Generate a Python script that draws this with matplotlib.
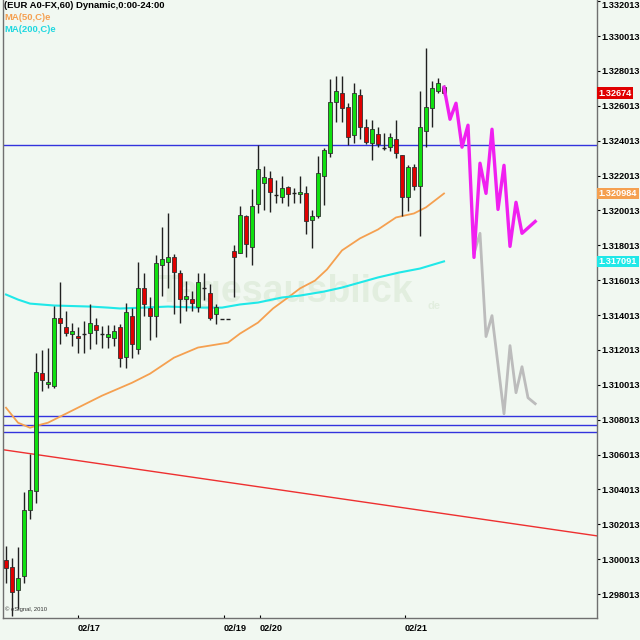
import matplotlib
matplotlib.use("Agg")
import matplotlib.pyplot as plt
import matplotlib.transforms as mtransforms

# --- hourly EUR/USD candles (bar index 0..73) ---
opens = [1.29997, 1.29956, 1.29824, 1.29905, 1.30284, 1.30393, 1.31071, 1.31008, 1.30996, 1.31387,
         1.31335, 1.31295, 1.31284, 1.31295, 1.31301, 1.31347, 1.31295, 1.31278, 1.31272, 1.31330,
         1.31163, 1.31398, 1.31209, 1.31559, 1.31439, 1.31393, 1.31691, 1.31703, 1.31732, 1.31640,
         1.31496, 1.31496, 1.31450, 1.31559, 1.31525, 1.31410, 1.31381, 1.31381, 1.31766, 1.31760,
         1.31967, 1.31789, 1.32036, 1.32157, 1.32185, 1.32088, 1.32076, 1.32134, 1.32099, 1.32094,
         1.32099, 1.31944, 1.31967, 1.32197, 1.32329, 1.32622, 1.32674, 1.32593, 1.32433, 1.32662,
         1.32478, 1.32387, 1.32438, 1.32358, 1.32364, 1.32410, 1.32318, 1.32076, 1.32249, 1.32140,
         1.32456, 1.32588, 1.32685, 1.32708]
highs = [1.30077, 1.30008, 1.30071, 1.30387, 1.30606, 1.31186, 1.31203, 1.31215, 1.31456, 1.31588,
         1.31427, 1.31358, 1.31335, 1.31370, 1.31467, 1.31387, 1.31341, 1.31347, 1.31347, 1.31352,
         1.31473, 1.31444, 1.31703, 1.31645, 1.31502, 1.31743, 1.31904, 1.31984, 1.31749, 1.31657,
         1.31594, 1.31542, 1.31640, 1.31645, 1.31582, 1.31467, 1.31381, 1.31381, 1.31801, 1.32025,
         1.31973, 1.32122, 1.32375, 1.32254, 1.32226, 1.32174, 1.32197, 1.32140, 1.32128, 1.32197,
         1.32140, 1.32002, 1.32312, 1.32358, 1.32754, 1.32771, 1.32771, 1.32616, 1.32731, 1.32697,
         1.32524, 1.32519, 1.32478, 1.32444, 1.32444, 1.32519, 1.32318, 1.32260, 1.32266, 1.32685,
         1.32932, 1.32743, 1.32760, 1.32720]
lows = [1.29865, 1.29675, 1.29715, 1.29865, 1.30232, 1.30324, 1.30968, 1.30985, 1.30985, 1.31238,
        1.31284, 1.31226, 1.31186, 1.31186, 1.31209, 1.31238, 1.31215, 1.31215, 1.31226, 1.31105,
        1.31100, 1.31157, 1.31180, 1.31398, 1.31261, 1.31278, 1.31513, 1.31554, 1.31410, 1.31358,
        1.31427, 1.31427, 1.31416, 1.31490, 1.31375, 1.31352, 1.31381, 1.31381, 1.31502, 1.31755,
        1.31737, 1.31686, 1.31984, 1.32002, 1.31990, 1.32042, 1.32042, 1.32025, 1.32042, 1.32042,
        1.31864, 1.31783, 1.31956, 1.32030, 1.32306, 1.32507, 1.32507, 1.32375, 1.32387, 1.32410,
        1.32381, 1.32289, 1.32364, 1.32346, 1.32341, 1.32300, 1.31967, 1.31996, 1.32117, 1.31852,
        1.32364, 1.32478, 1.32674, 1.32662]
closes = [1.29951, 1.29813, 1.29893, 1.30284, 1.30399, 1.31077, 1.31031, 1.31019, 1.31387, 1.31358,
          1.31301, 1.31307, 1.31272, 1.31295, 1.31358, 1.31318, 1.31295, 1.31295, 1.31312, 1.31157,
          1.31416, 1.31238, 1.31559, 1.31462, 1.31393, 1.31697, 1.31720, 1.31732, 1.31651, 1.31496,
          1.31508, 1.31473, 1.31588, 1.31559, 1.31387, 1.31450, 1.31381, 1.31381, 1.31737, 1.31973,
          1.31806, 1.32025, 1.32237, 1.32191, 1.32105, 1.32088, 1.32128, 1.32094, 1.32099, 1.32105,
          1.31938, 1.31967, 1.32214, 1.32346, 1.32622, 1.32685, 1.32588, 1.32421, 1.32674, 1.32478,
          1.32392, 1.32467, 1.32381, 1.32358, 1.32421, 1.32329, 1.32076, 1.32249, 1.32140, 1.32478,
          1.32593, 1.32703, 1.32731, 1.32674]

# moving averages (read at selected bars)
ma50_x = [0, 2, 4, 5, 7, 11, 16, 21, 24, 28, 32, 37, 39, 42, 44.5, 47, 49, 51.5, 53.5, 56, 59, 62, 65, 68, 70, 73]
ma50_y = [1.30870, 1.30784, 1.30755, 1.30766, 1.30784, 1.30853, 1.30939, 1.31013, 1.31065, 1.31157,
          1.31215, 1.31243, 1.31295, 1.31358, 1.31439, 1.31502, 1.31554, 1.31599, 1.31663, 1.31772,
          1.31841, 1.31892, 1.31961, 1.31984, 1.32019, 1.320984]
ma200_x = [0, 2, 4, 8, 14, 17, 19, 23, 27, 32, 36, 39, 42, 46, 49, 53, 56, 59, 62, 65.5, 69, 73]
ma200_y = [1.31519, 1.31490, 1.31467, 1.31456, 1.31450, 1.31444, 1.31439, 1.31444, 1.31450, 1.31444,
           1.31444, 1.31462, 1.31473, 1.31502, 1.31513, 1.31536, 1.31559, 1.31588, 1.31617, 1.31645,
           1.31668, 1.317091]

# projected paths
proj1_x = [73, 74, 75, 76, 77, 78, 79, 80, 81, 82, 83, 84, 85, 86, 88.2]
proj1_y = [1.32708, 1.32524, 1.32616, 1.32364, 1.32490, 1.31732, 1.32272, 1.32099, 1.32467, 1.32007,
           1.32260, 1.31795, 1.32048, 1.31870, 1.31938]
proj2_x = [78, 79, 80, 81, 83, 84, 85, 86, 87, 88.2]
proj2_y = [1.31755, 1.31870, 1.31278, 1.31398, 1.30835, 1.31226, 1.30956, 1.31105, 1.30927, 1.30893]

# horizontal levels and trend line
levels = [1.32379, 1.30822, 1.30771, 1.30730]
trend_x = [-0.5, 98.5]
trend_y = [1.30629, 1.30135]

date_pos = [12, 36.3, 42.3, 66.5]
date_labels = ["02/17", "02/19", "02/20", "02/21"]
price_ticks = [1.298013 + 0.002 * i for i in range(18)]

last_price = 1.32674
ma50_last = 1.320984
ma200_last = 1.317091

bg = "#f1f8f1"
font = "Liberation Sans"

fig = plt.figure(figsize=(6.4, 6.4), dpi=100, facecolor=bg)
ax = fig.add_axes([3 / 640, 1 - 618 / 640, 594 / 640, 618 / 640], facecolor=bg)

# watermark
ax.text(0.475, 0.527, "Tagesausblick", transform=ax.transAxes, ha="center", va="center",
        fontsize=27, fontweight="bold", color="#e2eedf", family=font, zorder=0)
ax.text(0.725, 0.505, "de", transform=ax.transAxes, ha="center", va="center",
        fontsize=8, fontweight="bold", color="#e2eedf", family=font, zorder=0)

for lv in levels:
    ax.axhline(lv, color="#3333dd", lw=1, zorder=1)
ax.plot(trend_x, trend_y, color="#ee3030", lw=1, zorder=1)

ax.plot(ma50_x, ma50_y, color="#f5a050", lw=1.3, zorder=2)
ax.plot(ma200_x, ma200_y, color="#20e8e8", lw=1.5, zorder=2)

# candles
for i in range(len(opens)):
    o, h, l, c = opens[i], highs[i], lows[i], closes[i]
    ax.vlines(i, l, h, color="#202020", lw=1, zorder=3)
    if abs(c - o) < 1e-6:
        ax.hlines(o, i - 0.35, i + 0.35, color="#202020", lw=1, zorder=4)
    else:
        col = "#10e010" if c > o else "#e00000"
        ax.bar(i, abs(c - o), bottom=min(o, c), width=0.7, color=col,
               edgecolor="#303030", lw=0.6, zorder=4)

ax.plot(proj2_x, proj2_y, color="#bcbcbc", lw=2, zorder=5)
ax.plot(proj1_x, proj1_y, color="#f020f0", lw=2.4, zorder=6)

ax.set_xlim(-0.5, 98.5)
ax.set_ylim(1.29664, 1.33208)

ax.spines["top"].set_visible(False)
for s in ["left", "right", "bottom"]:
    ax.spines[s].set_color("#707070")
    ax.spines[s].set_linewidth(1)

ax.yaxis.tick_right()
ax.set_yticks(price_ticks)
ax.set_yticklabels([f"{t:.6f}" for t in price_ticks])
ax.tick_params(axis="y", length=2, pad=1, labelsize=6.6, colors="black")
ax.set_xticks(date_pos)
ax.set_xticklabels(date_labels)
ax.tick_params(axis="x", length=2, direction="in", pad=4, labelsize=6.6)
for lab in ax.get_xticklabels():
    lab.set_horizontalalignment("left")
for lab in ax.get_xticklabels() + ax.get_yticklabels():
    lab.set_fontweight("bold")
    lab.set_family(font)
# the top price label sits just below the frame edge
ax.get_yticklabels()[-1].set_verticalalignment("top")

# value boxes on the price scale
trans = mtransforms.blended_transform_factory(ax.transAxes, ax.transData)
for val, txt, col in [(last_price, "1.32674", "#e00000"),
                      (ma50_last, "1.320984", "#f5a050"),
                      (ma200_last, "1.317091", "#20e8e8")]:
    ax.text(1.003, val, txt, transform=trans, ha="left", va="center", fontsize=6.6,
            fontweight="bold", color="white", family=font, clip_on=False,
            bbox=dict(boxstyle="square,pad=0.15", fc=col, ec="none"))

# header texts
fig.text(4 / 640, 1 - 6 / 640, "(EUR A0-FX,60) Dynamic,0:00-24:00", ha="left", va="center",
         fontsize=6.8, fontweight="bold", color="black", family=font)
fig.text(4 / 640, 1 - 18 / 640, "MA(50,C)e", ha="left", va="center",
         fontsize=6.8, fontweight="bold", color="#f5a050", family=font)
fig.text(4 / 640, 1 - 30 / 640, "MA(200,C)e", ha="left", va="center",
         fontsize=6.8, fontweight="bold", color="#20d8e0", family=font)
ax.text(0.004, 0.012, "\u00a9 eSignal, 2010", transform=ax.transAxes, fontsize=4.2,
        color="#333333", family=font)

fig.savefig("out.png", dpi=100, facecolor=bg)
